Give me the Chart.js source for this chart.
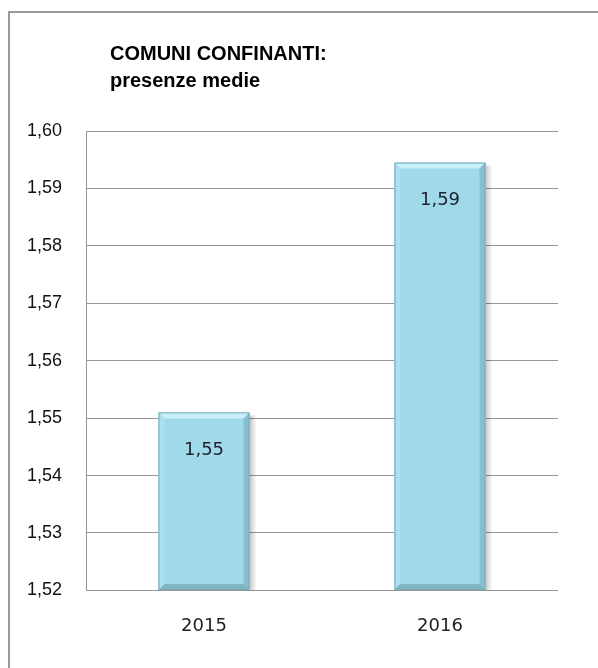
<!DOCTYPE html>
<html>
<head>
<meta charset="utf-8">
<script src="https://cdn.jsdelivr.net/npm/chart.js@4/dist/chart.umd.min.js"></script>
<style>
  html, body { margin: 0; padding: 0; background: #fff; }
  #wrap { position: relative; width: 598px; height: 668px; overflow: hidden; }
  #frame {
    position: absolute; left: 8px; top: 11px; width: 700px; height: 800px;
    border-left: 2px solid #9a9a9a; border-top: 2px solid #9a9a9a;
  }
  #title {
    position: absolute; left: 110px; top: 40px;
    font-family: "Liberation Sans", Arial, sans-serif; font-weight: bold;
    font-size: 20px; line-height: 27px; color: #000;
  }
  canvas { position: absolute; left: 0; top: 0; }
</style>
</head>
<body>
<div id="wrap">
  <div id="frame"></div>
  <canvas id="grafik" width="598" height="668"></canvas>
  <div id="title">COMUNI CONFINANTI:<br>presenze medie</div>
</div>
<script>
// dati
const anni = ['2015', '2016'];
const presenze = [1.551, 1.5945];
const yMin = 1.52;
const yMax = 1.60;
const yStep = 0.01;

const virgola = v => Number(v).toFixed(2).replace('.', ',');

// ombra e bordi smussati delle barre
const bevelBarre = {
  id: 'bevelBarre',
  beforeDatasetsDraw(chart) {
    const ctx = chart.ctx;
    chart.getDatasetMeta(0).data.forEach(bar => {
      const r = bar.x + bar.width / 2;
      const b = Math.min(bar.base, chart.chartArea.bottom);
      const g = ctx.createLinearGradient(r, 0, r + 7, 0);
      g.addColorStop(0, 'rgba(0,0,0,0.22)');
      g.addColorStop(1, 'rgba(0,0,0,0)');
      ctx.save();
      ctx.fillStyle = g;
      ctx.fillRect(r, bar.y + 3, 7, b - bar.y - 3);
      ctx.restore();
    });
  },
  afterDatasetsDraw(chart) {
    const ctx = chart.ctx;
    chart.getDatasetMeta(0).data.forEach(bar => {
      const l = bar.x - bar.width / 2, r = bar.x + bar.width / 2;
      const t = bar.y, b = Math.min(bar.base, chart.chartArea.bottom), s = 6;
      const poly = (pts, col) => {
        ctx.beginPath();
        ctx.moveTo(pts[0][0], pts[0][1]);
        pts.slice(1).forEach(p => ctx.lineTo(p[0], p[1]));
        ctx.closePath();
        ctx.fillStyle = col;
        ctx.fill();
      };
      ctx.save();
      poly([[l, t], [r, t], [r - s, t + s], [l + s, t + s]], '#c9eff9');
      poly([[l, t], [l + s, t + s], [l + s, b - s], [l, b]], '#ade0ee');
      poly([[r, t], [r - s, t + s], [r - s, b - s], [r, b]], '#86bfcf');
      poly([[l, b], [l + s, b - s], [r - s, b - s], [r, b]], '#7fb4c3');
      ctx.strokeStyle = '#78a9b7';
      ctx.lineWidth = 1;
      ctx.strokeRect(l + 0.5, t + 0.5, r - l - 1, b - t - 1);
      ctx.restore();
    });
  },
  afterDraw(chart) {
    // etichette dei valori dentro le barre
    const ctx = chart.ctx;
    ctx.save();
    ctx.font = '18px "DejaVu Sans", Verdana, sans-serif';
    ctx.fillStyle = '#1f1f2e';
    ctx.textAlign = 'center';
    ctx.textBaseline = 'middle';
    chart.getDatasetMeta(0).data.forEach((bar, i) => {
      ctx.fillText(virgola(presenze[i]), bar.x, bar.y + 38);
    });
    ctx.restore();
  }
};

new Chart(document.getElementById('grafik'), {
  type: 'bar',
  data: {
    labels: anni,
    datasets: [{
      data: presenze,
      base: yMin,
      backgroundColor: '#a0d9e9',
      borderWidth: 0,
      barPercentage: 0.386,
      categoryPercentage: 1
    }]
  },
  options: {
    responsive: false,
    animation: false,
    layout: { padding: { left: 3, right: 40, top: 131, bottom: 14 } },
    plugins: {
      legend: { display: false },
      tooltip: { enabled: false }
    },
    scales: {
      x: {
        grid: { display: false },
        border: { display: false },
        ticks: {
          padding: 17,
          color: '#222',
          font: { family: '"DejaVu Sans", Verdana, sans-serif', size: 18 }
        }
      },
      y: {
        min: yMin,
        max: yMax,
        grid: { color: '#959595', lineWidth: 1, drawTicks: false },
        border: { display: true, color: '#959595', width: 1 },
        ticks: {
          stepSize: yStep,
          padding: 24,
          color: '#111',
          font: { family: '"Liberation Sans", Arial, sans-serif', size: 18 },
          callback: v => virgola(v)
        }
      }
    }
  },
  plugins: [bevelBarre]
});
</script>
</body>
</html>
